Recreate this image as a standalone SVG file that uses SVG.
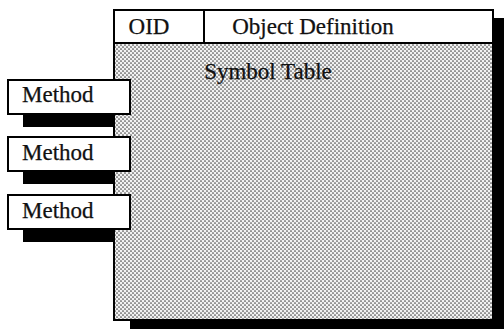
<svg xmlns="http://www.w3.org/2000/svg" width="504" height="329" viewBox="0 0 504 329">
  <style>
    .lbl { font-family: "Liberation Serif", "Times New Roman", serif; font-size: 23px; fill: #111; stroke: #111; stroke-width: 0.25; }
    .box { fill: #fff; stroke: #000; stroke-width: 2; }
    .shadow { fill: #000; }
    .line { stroke: #000; stroke-width: 2; }
  </style>
  <defs>
    <!-- halftone stipple used for the table body -->
    <pattern id="stipple" width="4" height="4" patternUnits="userSpaceOnUse">
      <rect width="4" height="4" fill="#f2f2f2"/>
      <circle cx="1" cy="1" r="0.85" fill="#4a4a4a"/>
      <circle cx="3" cy="3" r="0.85" fill="#4a4a4a"/>
    </pattern>
  </defs>

  <rect width="504" height="329" fill="#fff"/>

  <!-- drop shadows -->
  <rect class="shadow" x="130" y="18" width="380" height="312"/>
  <rect class="shadow" x="23" y="93" width="122" height="34"/>
  <rect class="shadow" x="23" y="150" width="122" height="34"/>
  <rect class="shadow" x="23" y="208" width="122" height="34"/>

  <!-- symbol table -->
  <g id="symbol-table">
    <rect x="114" y="10" width="379" height="310" fill="url(#stipple)"/>
    <rect x="114" y="10" width="379" height="33" fill="#fff"/>
    <rect x="114" y="10" width="379" height="310" fill="none" stroke="#000" stroke-width="2"/>
    <line class="line" x1="114" y1="43" x2="493" y2="43"/>
    <text class="lbl" x="268" y="79" text-anchor="middle">Symbol Table</text>
  </g>
  <g id="oid">
    <line class="line" x1="204" y1="10" x2="204" y2="43"/>
    <text class="lbl" x="149" y="34" text-anchor="middle">OID</text>
  </g>
  <g id="object-definition">
    <text class="lbl" x="313" y="34" text-anchor="middle">Object Definition</text>
  </g>

  <!-- methods -->
  <g id="method-1">
    <rect class="box" x="8" y="80" width="122" height="34"/>
    <text class="lbl" x="22" y="102">Method</text>
  </g>
  <g id="method-2">
    <rect class="box" x="8" y="137" width="122" height="34"/>
    <text class="lbl" x="22" y="160">Method</text>
  </g>
  <g id="method-3">
    <rect class="box" x="8" y="195" width="122" height="34"/>
    <text class="lbl" x="22" y="218">Method</text>
  </g>
</svg>
